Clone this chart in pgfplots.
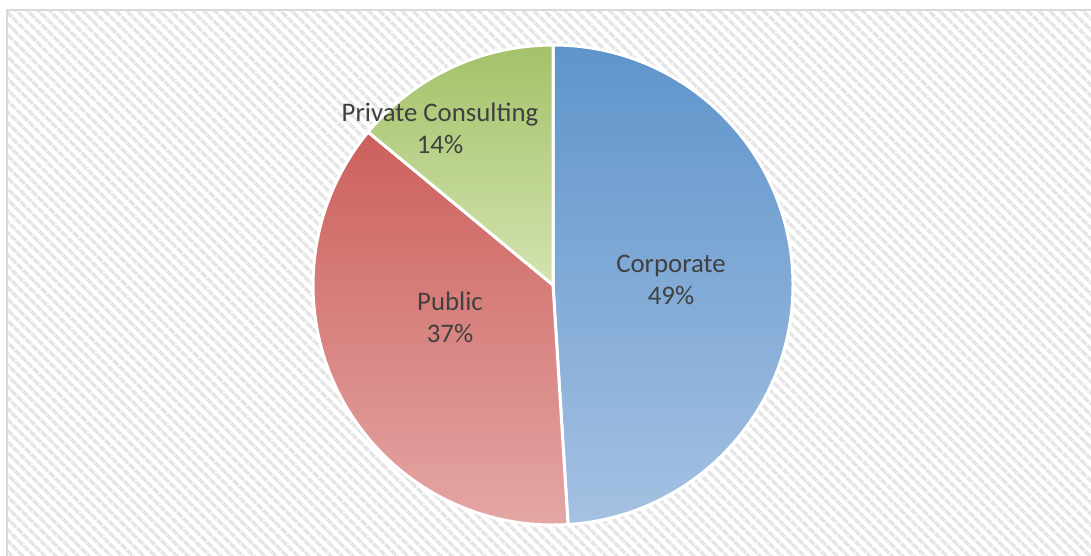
\documentclass[border=0pt]{standalone}
\usepackage{pgfplots}
\pgfplotsset{compat=1.18}
\usepackage{fontspec}
\setmainfont{Carlito}
\usetikzlibrary{patterns.meta}
\definecolor{txt}{HTML}{404040}
\definecolor{corpT}{HTML}{5E94CB}
\definecolor{corpB}{HTML}{A5C1E2}
\definecolor{pubT}{HTML}{CC605B}
\definecolor{pubB}{HTML}{E4A8A7}
\definecolor{priT}{HTML}{A3C269}
\definecolor{priB}{HTML}{D3E3AF}
\definecolor{hatch}{HTML}{E6E6E6}
\definecolor{frame}{HTML}{D9D9D9}
% pie shares (percent)
\def\vCorp{49}
\def\vPub{37}
\def\vPri{14}
\begin{document}
\begin{tikzpicture}
\begin{axis}[
  scale only axis, width=545.5pt, height=277.5pt,
  xmin=0, xmax=1091, ymin=0, ymax=555, y dir=reverse,
  hide axis,
]
% background
\fill[white] (axis cs:0,0) rectangle (axis cs:1091,555);
\fill[pattern={Lines[angle=-45,distance=4pt,line width=1.9pt]}, pattern color=hatch]
  (axis cs:7,10) rectangle (axis cs:1100,565);
\draw[frame, line width=1pt] (axis cs:7,10) rectangle (axis cs:1100,565);
% slices
\pgfmathsetmacro{\aA}{90}
\pgfmathsetmacro{\aB}{90-3.6*\vCorp}
\pgfmathsetmacro{\aC}{\aB-3.6*\vPub}
\pgfmathsetmacro{\aD}{\aC-3.6*\vPri}
\shadedraw[top color=corpT, bottom color=corpB, draw=white, line width=1.5pt, line join=round]
  (axis cs:553,285) -- ++(\aA:120pt) arc[start angle=\aA, end angle=\aB, radius=120pt] -- cycle;
\shadedraw[top color=pubT, bottom color=pubB, draw=white, line width=1.5pt, line join=round]
  (axis cs:553,285) -- ++(\aB:120pt) arc[start angle=\aB, end angle=\aC, radius=120pt] -- cycle;
\shadedraw[top color=priT, bottom color=priB, draw=white, line width=1.5pt, line join=round]
  (axis cs:553,285) -- ++(\aC:120pt) arc[start angle=\aC, end angle=\aD, radius=120pt] -- cycle;
% labels
\begin{scope}[every node/.style={align=center, text=txt, font=\fontsize{13.4}{16}\selectfont, inner sep=0pt}]
\node at (axis cs:671,280) {Corporate\\\vCorp\%};
\node at (axis cs:450,317) {Public\\\vPub\%};
\node at (axis cs:440,128) {Private Consulting\\\vPri\%};
\end{scope}
\end{axis}
\end{tikzpicture}
\end{document}
